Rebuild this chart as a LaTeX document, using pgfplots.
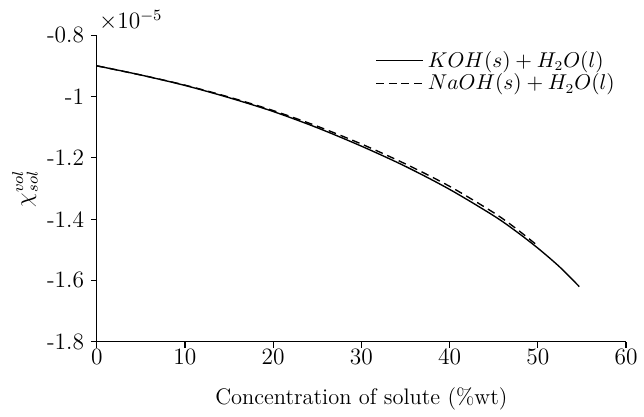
\documentclass[border=0pt]{standalone}
\usepackage{pgfplots}
\pgfplotsset{compat=1.18}

\begin{document}
\begin{tikzpicture}[font=\fontsize{12}{14}\selectfont]
\begin{axis}[
    scale only axis,
    width=271pt, height=157pt,
    axis x line=bottom, axis y line=left,
    axis line style={-, semithick},
    xmin=0, xmax=60, ymin=-1.8, ymax=-0.8,
    xtick={0,10,...,60},
    ytick={-1.8,-1.6,-1.4,-1.2,-1,-0.8},
    yticklabels={-1.8,-1.6,-1.4,-1.2,-1,-0.8},
    tick align=outside,
    major tick length=3pt,
    tick style={semithick, black},
    tick label style={font=\fontsize{12}{14}\selectfont},
    xticklabel style={yshift=2.5pt},
    label style={font=\fontsize{11.5}{14}\selectfont},
    xlabel={Concentration of solute (\%wt)},
    ylabel={$\chi_{sol}^{vol}$},
    xlabel style={yshift=-5pt},
    ylabel style={yshift=-2pt, font=\fontsize{12}{14}\selectfont},
    legend style={at={(0.998,0.975)}, anchor=north east, draw=none, fill=none,
                  row sep=-2pt, font=\fontsize{10.5}{12}\selectfont},
    legend cell align=left,
    legend image code/.code={\draw[#1] (0cm,0cm) -- (0.85cm,0cm);},
    clip=false,
]
\addplot[black, line width=0.7pt, smooth] coordinates {
  (0,-0.900) (5,-0.930) (10,-0.964) (15,-1.004) (20,-1.049)
  (25,-1.102) (30,-1.162) (35,-1.228) (40,-1.303) (45,-1.389)
  (47.5,-1.439) (50,-1.4945) (52.5,-1.5565) (54.7,-1.620)
};
\addlegendentry{$KOH(s)+H_2O(l)$}
\addplot[black, line width=0.7pt, smooth, dash pattern=on 4pt off 2.5pt] coordinates {
  (0,-0.900) (5,-0.930) (10,-0.963) (15,-1.002) (20,-1.046)
  (25,-1.097) (30,-1.155) (35,-1.220) (40,-1.293) (45,-1.379)
  (47.5,-1.430) (50,-1.487)
};
\addlegendentry{$NaOH(s)+H_2O(l)$}
\node[anchor=south west, inner sep=1pt, yshift=1pt, font=\fontsize{12}{14}\selectfont] at (rel axis cs:0,1) {$\times10^{-5}$};
\end{axis}
% extra room round the axis, as in the reference
\path ([yshift=18pt]current axis.north west) -- ([xshift=-3pt]current axis.outer west);
\end{tikzpicture}
\end{document}
